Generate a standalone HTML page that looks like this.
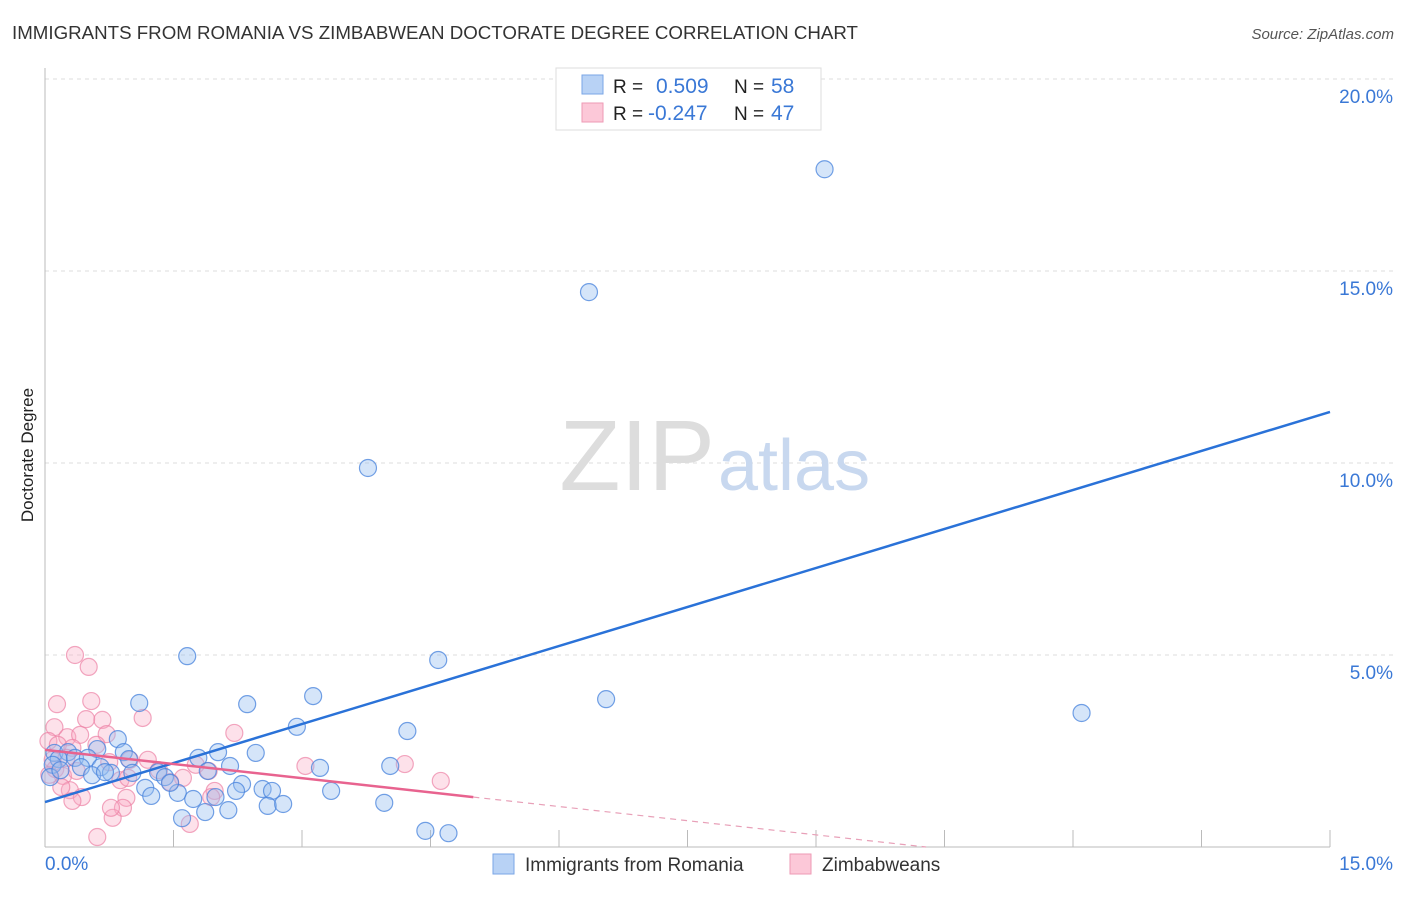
<!DOCTYPE html>
<html><head><meta charset="utf-8"><style>
body{margin:0;background:#fff;font-family:"Liberation Sans",sans-serif;}
svg text{font-family:"Liberation Sans",sans-serif;}
</style></head><body>
<svg id="chart" width="1406" height="892">
<text x="12" y="39" font-size="18" fill="#333" textLength="846" lengthAdjust="spacingAndGlyphs">IMMIGRANTS FROM ROMANIA VS ZIMBABWEAN DOCTORATE DEGREE CORRELATION CHART</text>
<text x="1394" y="39" font-size="15" fill="#555" font-style="italic" text-anchor="end">Source: ZipAtlas.com</text>
<text transform="translate(33,455) rotate(-90)" font-size="17" fill="#222" text-anchor="middle">Doctorate Degree</text>
<g id="grid"></g>
<text x="715" y="490" font-size="100" fill="#ddd" text-anchor="end" font-family="Liberation Serif">ZIP</text>
<text x="718" y="490" font-size="72" fill="#c8d8ef">atlas</text>
<g id="marks"></g>
<g>
<rect x="556" y="68" width="265" height="62" fill="#fff" stroke="#ddd"/>
<rect x="582" y="75" width="21" height="19" fill="#b8d2f5" stroke="#7aa6e6"/>
<rect x="582" y="103" width="21" height="19" fill="#fcc8d8" stroke="#ee9ab5"/>
<text x="613" y="93" font-size="19" fill="#222">R = </text><text x="656" y="93" font-size="21" fill="#3a78d6">0.509</text>
<text x="734" y="93" font-size="19" fill="#222">N = </text><text x="771" y="93" font-size="21" fill="#3a78d6">58</text>
<text x="613" y="120" font-size="19" fill="#222">R = </text><text x="648" y="120" font-size="21" fill="#3a78d6">-0.247</text>
<text x="734" y="120" font-size="19" fill="#222">N = </text><text x="771" y="120" font-size="21" fill="#3a78d6">47</text>
</g>
<g>
<rect x="493" y="854" width="21" height="20" fill="#b8d2f5" stroke="#7aa6e6"/>
<text x="525" y="871" font-size="19" fill="#333">Immigrants from Romania</text>
<rect x="790" y="854" width="21" height="20" fill="#fcc8d8" stroke="#ee9ab5"/>
<text x="822" y="871" font-size="19" fill="#333">Zimbabweans</text>
</g>
</svg>
<script>
const blueX=[9.10,6.35,3.77,1.66,4.59,1.1,2.36,3.13,6.55,12.1,2.94,4.23,0.85,0.61,0.92,0.11,0.27,0.16,0.35,0.5,0.98,2.02,2.46,1.79,0.09,0.42,0.65,0.77,0.55,1.32,1.4,1.9,2.16,3.21,4.03,1.17,1.24,1.55,1.46,2.3,2.23,2.54,2.65,3.34,1.73,1.99,2.6,2.78,3.96,1.6,2.14,1.87,4.44,4.71,0.06,0.18,1.02,0.7];
const blueY=[17.65,14.45,9.87,4.97,4.87,3.75,3.72,3.93,3.85,3.49,3.13,3.02,2.81,2.55,2.47,2.45,2.47,2.29,2.32,2.32,2.29,2.47,2.45,2.32,2.14,2.08,2.08,1.93,1.87,1.95,1.82,1.98,2.11,2.06,2.11,1.54,1.33,1.41,1.67,1.64,1.46,1.51,1.46,1.46,1.25,1.3,1.07,1.12,1.15,0.75,0.96,0.91,0.42,0.36,1.82,2.0,1.93,1.95];
const pinkX=[0.35,0.51,0.14,0.54,0.11,0.48,0.67,1.14,2.21,0.26,0.41,0.72,0.04,0.15,0.32,0.6,0.99,1.2,0.75,1.76,1.91,3.04,4.2,4.62,0.12,0.21,0.37,0.88,0.97,1.61,1.98,1.94,0.29,0.19,0.43,0.95,0.91,0.32,0.79,0.77,1.69,0.61,0.05,0.09,0.25,1.33,1.46];
const pinkY=[5.0,4.69,3.72,3.8,3.12,3.33,3.31,3.36,2.97,2.86,2.92,2.94,2.76,2.66,2.58,2.66,2.27,2.27,2.21,2.14,1.98,2.11,2.16,1.72,2.03,1.85,1.98,1.74,1.8,1.8,1.46,1.3,1.48,1.56,1.3,1.28,1.02,1.2,0.76,1.02,0.6,0.26,1.88,2.27,2.32,2.0,1.69];
const yTicks=[5,10,15,20];
const blueLine=[1.17,11.33];
const pinkLine=[2.53,-0.246];
const X=v=>45+v/15*1285, Y=v=>847-v/5*192;
const NS="http://www.w3.org/2000/svg";
const g=document.getElementById('grid'), m=document.getElementById('marks');
function mk(p,tag,a){const e=document.createElementNS(NS,tag);for(const k in a)e.setAttribute(k,a[k]);p.appendChild(e);return e;}
yTicks.forEach(t=>{
 const l=mk(g,'line',{x1:45,x2:1395,y1:Y(t),y2:Y(t),stroke:'#ddd','stroke-dasharray':'4,4'});
 
 
 const tx=mk(g,'text',{x:1393,y:Y(t)+24,'font-size':19,fill:'#3a78d6','text-anchor':'end'});
 tx.textContent=t.toFixed(1)+'%';
 
 
});
mk(g,'line',{x1:45,x2:45,y1:68,y2:847,stroke:'#bbb'});
mk(g,'line',{x1:45,x2:1330,y1:847,y2:847,stroke:'#bbb'});
for(let i=1;i<=10;i++){const x=X(i*1.5);mk(g,'line',{x1:x,x2:x,y1:830,y2:847,stroke:'#bbb'});}
const x0=mk(g,'text',{x:45,y:870,'font-size':19,fill:'#3a78d6'});x0.textContent='0.0%';


const x1=mk(g,'text',{x:1393,y:870,'font-size':19,fill:'#3a78d6','text-anchor':'end'});x1.textContent='15.0%';


pinkX.forEach((v,i)=>{
 const c=mk(m,'circle',{cx:X(v),cy:Y(pinkY[i]),r:8.5,fill:'rgba(248,170,195,0.35)',stroke:'rgba(236,130,165,0.7)','stroke-width':1.2});
 
 
});
blueX.forEach((v,i)=>{
 const c=mk(m,'circle',{cx:X(v),cy:Y(blueY[i]),r:8.5,fill:'rgba(150,190,240,0.4)',stroke:'rgba(70,130,220,0.75)','stroke-width':1.2});
 
 
});
const bl=mk(m,'line',{x1:X(0),y1:Y(blueLine[0]),x2:X(15),y2:Y(blueLine[1]),stroke:'#2a72d8','stroke-width':2.5});


const pe=5.0, pz=-pinkLine[0]/pinkLine[1];
const pl=mk(m,'line',{x1:X(0),y1:Y(pinkLine[0]),x2:X(pe),y2:Y(pinkLine[0]+pinkLine[1]*pe),stroke:'#e8638f','stroke-width':2.5});


const pd=mk(m,'line',{x1:X(pe),y1:Y(pinkLine[0]+pinkLine[1]*pe),x2:X(pz),y2:Y(0),stroke:'#e8a0b8','stroke-width':1.2,'stroke-dasharray':'6,5'});


</script>
</body></html>
